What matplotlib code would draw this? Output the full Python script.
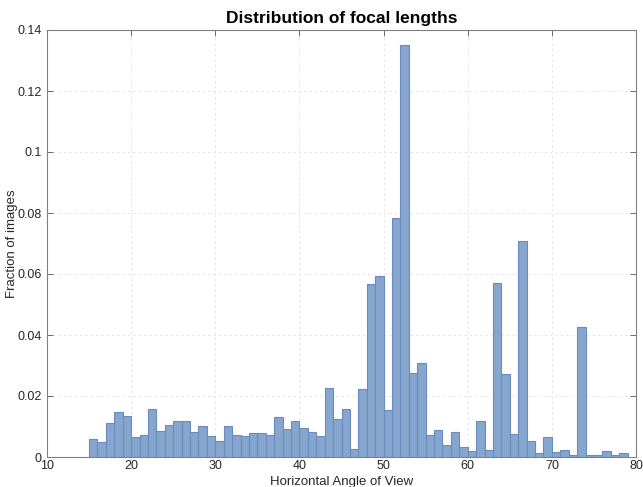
import matplotlib
matplotlib.use('Agg')
import matplotlib.pyplot as plt
import numpy as np

plt.rcParams['font.family'] = ['Liberation Sans', 'DejaVu Sans']

# left edge of each 1-degree bin
bin_left = list(range(15, 79))
# fraction of images in each bin
fraction = [
    0.0058, 0.0049, 0.0112, 0.0147, 0.0133, 0.0066, 0.0072, 0.0157, 0.0085, 0.0105,  # 15-24
    0.0118, 0.0118, 0.0083, 0.0101, 0.0069, 0.0053, 0.0101, 0.0072, 0.0069, 0.0079,  # 25-34
    0.0079, 0.0072, 0.0130, 0.0091, 0.0118, 0.0094, 0.0082, 0.0069, 0.0225, 0.0124,  # 35-44
    0.0158, 0.0026, 0.0223, 0.0566, 0.0595, 0.0154, 0.0784, 0.1351, 0.0274, 0.0308,  # 45-54
    0.0073, 0.0087, 0.0040, 0.0082, 0.0032, 0.0020, 0.0118, 0.0023, 0.0570, 0.0273,  # 55-64
    0.0075, 0.0708, 0.0052, 0.0012, 0.0065, 0.0016, 0.0023, 0.0008, 0.0426, 0.0008,  # 65-74
    0.0007, 0.0020, 0.0007, 0.0012,                                                  # 75-78
]

x_ticks = [10, 20, 30, 40, 50, 60, 70, 80]
y_ticks = [0, 0.02, 0.04, 0.06, 0.08, 0.1, 0.12, 0.14]
y_labels = ['0', '0.02', '0.04', '0.06', '0.08', '0.1', '0.12', '0.14']

fig = plt.figure(figsize=(6.43, 4.87), dpi=100)
ax = fig.add_axes([47 / 643, 1 - 457 / 487, 589 / 643, 427 / 487])

ax.bar(bin_left, fraction, width=1, align='edge',
       facecolor='#87a6ce', edgecolor='#6a8bbf', linewidth=0.8, zorder=2)

ax.set_xlim(10, 80)
ax.set_ylim(0, 0.14)
ax.set_xticks(x_ticks)
ax.set_yticks(y_ticks)
ax.set_yticklabels(y_labels)

ax.grid(True, linestyle=(0, (2.5, 3)), color='#e6e6e6', linewidth=0.7, zorder=0)
ax.set_axisbelow(True)

for s in ax.spines.values():
    s.set_color('#808080')
    s.set_linewidth(0.8)

ax.tick_params(direction='in', top=True, right=True, length=4, width=0.6,
               color='#555555', labelsize=9, labelcolor='#262626')
ax.tick_params(axis='y', pad=4)
ax.tick_params(axis='x', pad=2)

ax.set_title('Distribution of focal lengths', fontsize=12.5, fontweight='bold', pad=5)
ax.set_xlabel('Horizontal Angle of View', fontsize=9.5, color='#262626')
ax.set_ylabel('Fraction of images', fontsize=9.5, color='#262626')
ax.xaxis.set_label_coords(0.5, -(476 - 457) / 427)
ax.yaxis.set_label_coords(-(47 - 18) / 589, 0.5)

fig.savefig('out.png', dpi=100)
